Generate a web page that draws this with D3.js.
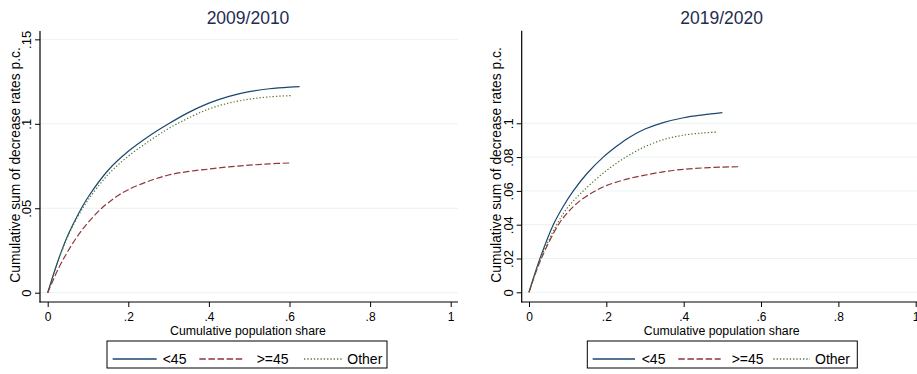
<!DOCTYPE html>
<html>
<head>
<meta charset="utf-8">
<script src="https://cdn.jsdelivr.net/npm/d3@7/dist/d3.min.js"></script>
<style>
  body { margin: 0; background: #fff; }
  svg { display: block; font-family: "Liberation Sans", Arial, sans-serif; }
</style>
</head>
<body>
<script>
// panel titles, series names, ticks
const panelTitles = ['2009/2010', '2019/2020'];
const seriesNames = ['<45', '>=45', 'Other'];
const xTicks = [0, 0.2, 0.4, 0.6, 0.8, 1];
const yTicks2009 = [0, 0.05, 0.1, 0.15];
const yTicks2019 = [0, 0.02, 0.04, 0.06, 0.08, 0.1];

// 2009/2010 : cumulative population share (x) and cumulative sum (y)
const share09Under45 = [0, .025, .05, .075, .1, .15, .2, .25, .3, .35, .4, .45, .5, .55, .6, .625];
const cum09Under45   = [0, .0185, .034, .0462, .0565, .0725, .0837, .0925, .1, .10675, .11225, .11625, .119, .12075, .12175, .122];
const share09Over45  = [0, .025, .05, .075, .1, .134, .17, .2, .25, .3, .35, .4, .45, .5, .55, .6];
const cum09Over45    = [0, .0135, .0245, .0338, .0415, .05, .0568, .061, .066, .0697, .0718, .0732, .0745, .0755, .0763, .0768];
const share09Other   = [0, .025, .05, .075, .1, .15, .2, .25, .3, .35, .4, .45, .5, .55, .605];
const cum09Other     = [0, .0182, .0334, .0452, .0548, .07, .0808, .0895, .0972, .1035, .1088, .1123, .11455, .11595, .1167];

// 2019/2020
const share19Under45 = [0, .0284, .0628, .0885, .1146, .15, .192, .23, .26, .3, .347, .4, .45, .5];
const cum19Under45   = [0, .02, .04, .0508, .06, .0703, .08, .087, .0918, .0966, .1004, .1033, .105, .1063];
const share19Over45  = [0, .03, .076, .1, .13, .17, .2, .25, .3, .35, .4, .45, .5, .547];
const cum19Over45    = [0, .019, .04, .0472, .0538, .0598, .0631, .0668, .0693, .0714, .0728, .0736, .0741, .0743];
const share19Other   = [0, .03, .0716, .1, .1405, .2, .25, .3, .35, .4, .45, .4836];
const cum19Other     = [0, .02, .04, .0502, .06, .072, .0799, .0862, .0905, .093, .0943, .0948];

const colors = ['#1a476f', '#90353b', '#55752f'];
const dashes = [null, '6.5,2.6', '1.3,2'];

const zip = (xs, ys) => xs.map((x, i) => ({ x: x, y: ys[i] }));
const fmt = v => v === 0 ? '0' : (v === 1 ? '1' : d3.format('.2~f')(v).replace(/^0/, ''));

const svg = d3.select('body').append('svg')
  .attr('width', 917).attr('height', 374);

const panels = [
  { title: panelTitles[0], yTicks: yTicks2009,
    series: [zip(share09Under45, cum09Under45), zip(share09Over45, cum09Over45), zip(share09Other, cum09Other)],
    axisX: 40, right: 458, top: 31, bottom: 302, x0: 47.7, x1: 450.7, y0: 292.7, yPerUnit: 1689,
    titleX: 248, yTitleX: 19.5, legX: 107, legW: 280,
    legLine: [[5.7, 44], [92.3, 44.7], [197, 38.7]], legText: [55.7, 149.7, 240.3] },
  { title: panelTitles[1], yTicks: yTicks2019,
    series: [zip(share19Under45, cum19Under45), zip(share19Over45, cum19Over45), zip(share19Other, cum19Other)],
    axisX: 521.7, right: 917, top: 30.7, bottom: 302, x0: 529, x1: 915.7, y0: 292.3, yPerUnit: 1690,
    titleX: 721.7, yTitleX: 501, legX: 587.3, legW: 270,
    legLine: [[5.4, 42.3], [91, 42.4], [186, 36.7]], legText: [54.4, 144.4, 227.7] }
];

panels.forEach(p => {
  const g = svg.append('g');
  const x = d3.scaleLinear().domain([0, 1]).range([p.x0, p.x1]);
  const yMax = d3.max(p.yTicks);
  const y = d3.scaleLinear().domain([0, yMax]).range([p.y0, p.y0 - yMax * p.yPerUnit]);

  // gridlines
  g.selectAll('.grid').data(p.yTicks).join('line')
    .attr('x1', p.axisX).attr('x2', p.right)
    .attr('y1', d => y(d)).attr('y2', d => y(d))
    .attr('stroke', '#eaf2f3').attr('stroke-width', 1);

  // y axis
  const ya = g.append('g')
    .attr('transform', `translate(${p.axisX},0)`)
    .call(d3.axisLeft(y).tickValues(p.yTicks).tickSize(5).tickFormat(fmt));
  ya.select('.domain').remove();
  ya.selectAll('.tick line').attr('stroke', '#000');
  ya.selectAll('.tick text')
    .attr('x', 0).attr('dy', 0)
    .attr('transform', 'translate(-9,0) rotate(-90)')
    .attr('text-anchor', 'middle')
    .attr('font-size', 13).attr('fill', '#000')
    .attr('font-family', '"Liberation Sans", Arial, sans-serif');
  g.append('line')
    .attr('x1', p.axisX).attr('x2', p.axisX)
    .attr('y1', p.top).attr('y2', p.bottom + 0.5)
    .attr('stroke', '#000').attr('stroke-width', 1.2);

  // x axis
  const xa = g.append('g')
    .attr('transform', `translate(0,${p.bottom})`)
    .call(d3.axisBottom(x).tickValues(xTicks).tickSize(5).tickFormat(fmt));
  xa.select('.domain').remove();
  xa.selectAll('.tick line').attr('stroke', '#000');
  xa.selectAll('.tick text')
    .attr('y', 19).attr('dy', 0)
    .attr('font-size', 12).attr('fill', '#000')
    .attr('font-family', '"Liberation Sans", Arial, sans-serif');
  g.append('line')
    .attr('x1', p.axisX - 0.5).attr('x2', p.right)
    .attr('y1', p.bottom).attr('y2', p.bottom)
    .attr('stroke', '#000').attr('stroke-width', 1.2);

  // titles
  g.append('text').attr('x', p.titleX).attr('y', 23.5)
    .attr('text-anchor', 'middle').attr('font-size', 17.5).attr('fill', '#1f2d4f')
    .text(p.title);
  g.append('text').attr('x', p.titleX).attr('y', 334.5)
    .attr('text-anchor', 'middle').attr('font-size', 12.3).attr('fill', '#000')
    .text('Cumulative population share');
  g.append('text')
    .attr('transform', `translate(${p.yTitleX},165) rotate(-90)`)
    .attr('text-anchor', 'middle').attr('font-size', 13.8).attr('fill', '#000')
    .text('Cumulative sum of decrease rates p.c.');

  // curves
  const line = d3.line().x(d => x(d.x)).y(d => y(d.y)).curve(d3.curveCatmullRom.alpha(0.5));
  p.series.forEach((s, i) => {
    g.append('path').datum(s)
      .attr('d', line)
      .attr('fill', 'none')
      .attr('stroke', colors[i])
      .attr('stroke-width', 1.2)
      .attr('stroke-dasharray', dashes[i]);
  });

  // legend
  const leg = g.append('g').attr('transform', `translate(${p.legX},341)`);
  leg.append('rect').attr('width', p.legW).attr('height', 27)
    .attr('fill', '#fff').attr('stroke', '#000').attr('stroke-width', 1);
  seriesNames.forEach((name, i) => {
    const [lx, lw] = p.legLine[i];
    leg.append('line')
      .attr('x1', lx).attr('x2', lx + lw)
      .attr('y1', 18).attr('y2', 18)
      .attr('stroke', colors[i]).attr('stroke-width', 1.3)
      .attr('stroke-dasharray', dashes[i]);
    leg.append('text')
      .attr('x', p.legText[i]).attr('y', 23)
      .attr('font-size', 14).attr('fill', '#000')
      .text(name);
  });
});
</script>
</body>
</html>
